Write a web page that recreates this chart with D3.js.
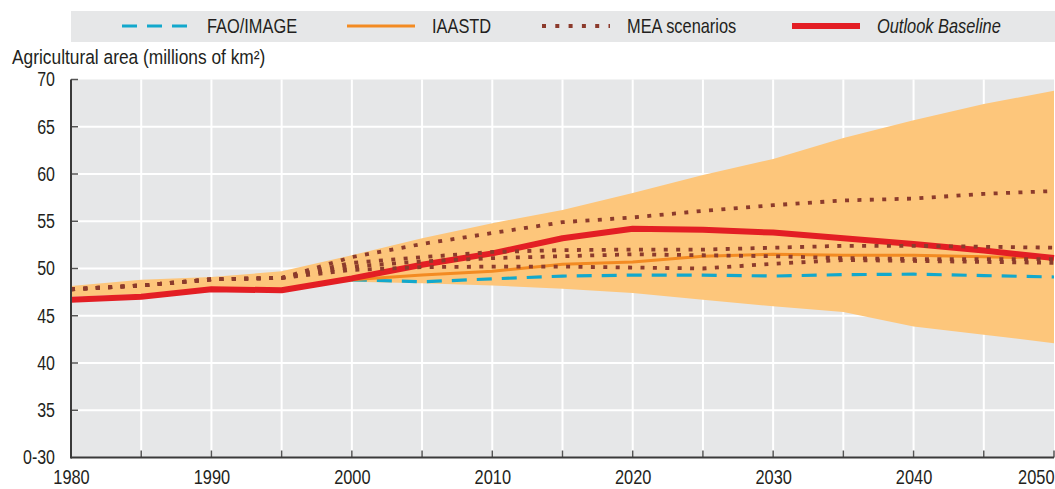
<!DOCTYPE html>
<html>
<head>
<meta charset="utf-8">
<script src="https://cdn.jsdelivr.net/npm/d3@7"></script>
<style>
  html, body { margin: 0; padding: 0; background: #ffffff; }
  svg { display: block; }
  text { font-family: "Liberation Sans", Arial, "DejaVu Sans", sans-serif; fill: #231f20; }
</style>
</head>
<body>
<svg id="chart" width="1055" height="489"></svg>
<script>
// ---------- data ----------
const years = [1980, 1985, 1990, 1995, 2000, 2005, 2010, 2015, 2020, 2025, 2030, 2035, 2040, 2045, 2050];
const outlookBaseline = [46.7, 47.0, 47.8, 47.7, 48.95, 50.4, 51.6, 53.2, 54.2, 54.1, 53.8, 53.2, 52.6, 51.9, 51.1];
const bandUpper = [48.15, 48.8, 49.1, 49.7, 51.4, 53.2, 54.8, 56.2, 58.0, 59.9, 61.6, 63.8, 65.7, 67.4, 68.8];
const bandLower = [47.0, 47.3, 48.0, 47.9, 48.6, 48.45, 48.2, 47.85, 47.4, 46.7, 46.0, 45.4, 43.85, 43.0, 42.1];
const faoYears = [2000, 2005, 2010, 2015, 2020, 2025, 2030, 2035, 2040, 2045, 2050];
const faoImage = [48.8, 48.6, 48.9, 49.2, 49.3, 49.3, 49.2, 49.35, 49.4, 49.25, 49.1];
const iaastdYears = [2000, 2005, 2010, 2015, 2020, 2025, 2030, 2035, 2040, 2045, 2050];
const iaastd = [48.8, 49.3, 49.7, 50.45, 50.7, 51.3, 51.5, 51.4, 51.4, 51.25, 51.1];
const meaA = [47.8, 48.2, 48.85, 49.0, 51.2, 52.6, 53.75, 54.9, 55.4, 56.1, 56.7, 57.2, 57.4, 57.9, 58.2];
const meaB = [47.8, 48.2, 48.85, 49.0, 50.6, 51.2, 51.75, 51.95, 52.0, 52.0, 52.2, 52.4, 52.4, 52.3, 52.2];
const meaC = [47.8, 48.2, 48.85, 49.0, 50.2, 50.75, 51.1, 51.3, 51.5, 51.4, 51.3, 51.1, 51.0, 51.0, 51.0];
const meaD = [47.8, 48.2, 48.85, 49.0, 49.85, 50.15, 50.2, 50.2, 50.1, 50.0, 50.5, 50.9, 50.8, 50.7, 50.6];
const yTickValues = [30, 35, 40, 45, 50, 55, 60, 65, 70];
const yTickLabels = ["0-30", "35", "40", "45", "50", "55", "60", "65", "70"];
const xTickValues = [1980, 1990, 2000, 2010, 2020, 2030, 2040, 2050];
const legendLabels = ["FAO/IMAGE", "IAASTD", "MEA scenarios", "Outlook Baseline"];
const yTitle = "Agricultural area (millions of km²)";

(function () {
// ---------- layout ----------
const C = {
  bg: "#e6e7e8", grid: "#ffffff", band: "#fdc67b", red: "#e31e24",
  orange: "#f38b22", brown: "#8c3b2c", cyan: "#12a8cc", axis: "#3a3a3a"
};
const NARROW = 0.82;
const svg = d3.select("#chart");
const pL = 71, pR = 1054, pT = 79.5, pB = 457.5;
const x = d3.scaleLinear().domain([1980, 2050]).range([pL, pR]);
const y = d3.scaleLinear().domain([30, 70]).range([pB, pT]);

// plot background
svg.append("rect").attr("x", pL).attr("y", pT).attr("width", pR - pL).attr("height", pB - pT).attr("fill", C.bg);

// gridlines
const gridX = d3.range(1985, 2050, 5);
svg.append("g").selectAll("line").data(gridX).join("line")
  .attr("x1", d => x(d)).attr("x2", d => x(d)).attr("y1", pT).attr("y2", pB)
  .attr("stroke", C.grid).attr("stroke-width", 2);
svg.append("g").selectAll("line").data(yTickValues.slice(1, -1)).join("line")
  .attr("x1", pL).attr("x2", pR).attr("y1", d => y(d)).attr("y2", d => y(d))
  .attr("stroke", C.grid).attr("stroke-width", 2);

// band
const area = d3.area().x((d, i) => x(years[i])).y0((d, i) => y(bandLower[i])).y1(d => y(d));
svg.append("path").datum(bandUpper).attr("d", area).attr("fill", C.band);

const line = (xs) => d3.line().x((d, i) => x(xs[i])).y(d => y(d));

// FAO/IMAGE
svg.append("path").datum(faoImage).attr("d", line(faoYears))
  .attr("fill", "none").attr("stroke", C.cyan).attr("stroke-width", 3.2).attr("stroke-dasharray", "15 10");
// IAASTD
svg.append("path").datum(iaastd).attr("d", line(iaastdYears))
  .attr("fill", "none").attr("stroke", C.orange).attr("stroke-width", 3);
// Outlook baseline
svg.append("path").datum(outlookBaseline).attr("d", line(years))
  .attr("fill", "none").attr("stroke", C.red).attr("stroke-width", 6).attr("stroke-linejoin", "round");
// MEA scenarios
svg.append("g").selectAll("path").data([meaA, meaB, meaC, meaD]).join("path")
  .attr("d", d => line(years)(d))
  .attr("fill", "none").attr("stroke", C.brown).attr("stroke-width", 3.8).attr("stroke-dasharray", "4 8.4");

// y axis
const yPad = 16;
const yAxis = d3.axisLeft(y).tickValues(yTickValues).tickFormat((d, i) => yTickLabels[i]).tickSize(0).tickPadding(yPad);
const gy = svg.append("g").attr("transform", `translate(${pL},0)`).call(yAxis);
gy.select(".domain").remove();
gy.attr("font-family", null).attr("font-size", null);
gy.selectAll("text").attr("font-size", 19.5).attr("fill", "#231f20")
  .attr("x", -yPad / NARROW).attr("transform", `scale(${NARROW},1)`);
svg.append("g").selectAll("line").data(yTickValues.slice(1)).join("line")
  .attr("x1", pL).attr("x2", pL + 7).attr("y1", d => y(d)).attr("y2", d => y(d))
  .attr("stroke", "#555").attr("stroke-width", 1.5);

// x axis
const xAxis = d3.axisBottom(x).tickValues(xTickValues).tickFormat(d3.format("d")).tickSize(0).tickPadding(12.5);
const gx = svg.append("g").attr("transform", `translate(0,${pB})`).call(xAxis);
gx.select(".domain").remove();
gx.attr("font-family", null).attr("font-size", null);
gx.selectAll("text").attr("font-size", 20).attr("fill", "#231f20")
  .attr("transform", `scale(${NARROW},1)`)
  .attr("text-anchor", d => d === 2050 ? "end" : "middle");
svg.append("g").selectAll("line").data(d3.range(1985, 2051, 5)).join("line")
  .attr("x1", d => x(d)).attr("x2", d => x(d)).attr("y1", pB).attr("y2", pB - 7)
  .attr("stroke", "#555").attr("stroke-width", 1.5);

svg.append("line").attr("x1", pL).attr("x2", pL).attr("y1", pT).attr("y2", pB + 1)
  .attr("stroke", C.axis).attr("stroke-width", 2);
svg.append("line").attr("x1", pL).attr("x2", pR).attr("y1", pB).attr("y2", pB)
  .attr("stroke", C.axis).attr("stroke-width", 2);

// y title
svg.append("text").attr("transform", `translate(12,64) scale(0.89,1)`).attr("font-size", 19.5).text(yTitle);

// legend
svg.append("rect").attr("x", 71).attr("y", 11).attr("width", 984).attr("height", 31).attr("fill", C.bg);
const legendItems = [
  { x1: 122, x2: 188, tx: 207, stroke: C.cyan, w: 3.2, dash: "15 10", italic: false },
  { x1: 347, x2: 415, tx: 432, stroke: C.orange, w: 3, dash: null, italic: false },
  { x1: 542, x2: 610, tx: 627, stroke: C.brown, w: 3.8, dash: "4 9.3", italic: false },
  { x1: 792, x2: 860, tx: 877, stroke: C.red, w: 6, dash: null, italic: true }
];
const lg = svg.append("g").selectAll("g").data(legendItems).join("g");
lg.append("line").attr("x1", d => d.x1).attr("x2", d => d.x2).attr("y1", 26).attr("y2", 26)
  .attr("stroke", d => d.stroke).attr("stroke-width", d => d.w).attr("stroke-dasharray", d => d.dash);
lg.append("text").attr("transform", d => `translate(${d.tx},33) scale(${NARROW},1)`).attr("font-size", 20)
  .attr("font-style", d => d.italic ? "italic" : "normal").text((d, i) => legendLabels[i]);
})();
</script>
</body>
</html>
